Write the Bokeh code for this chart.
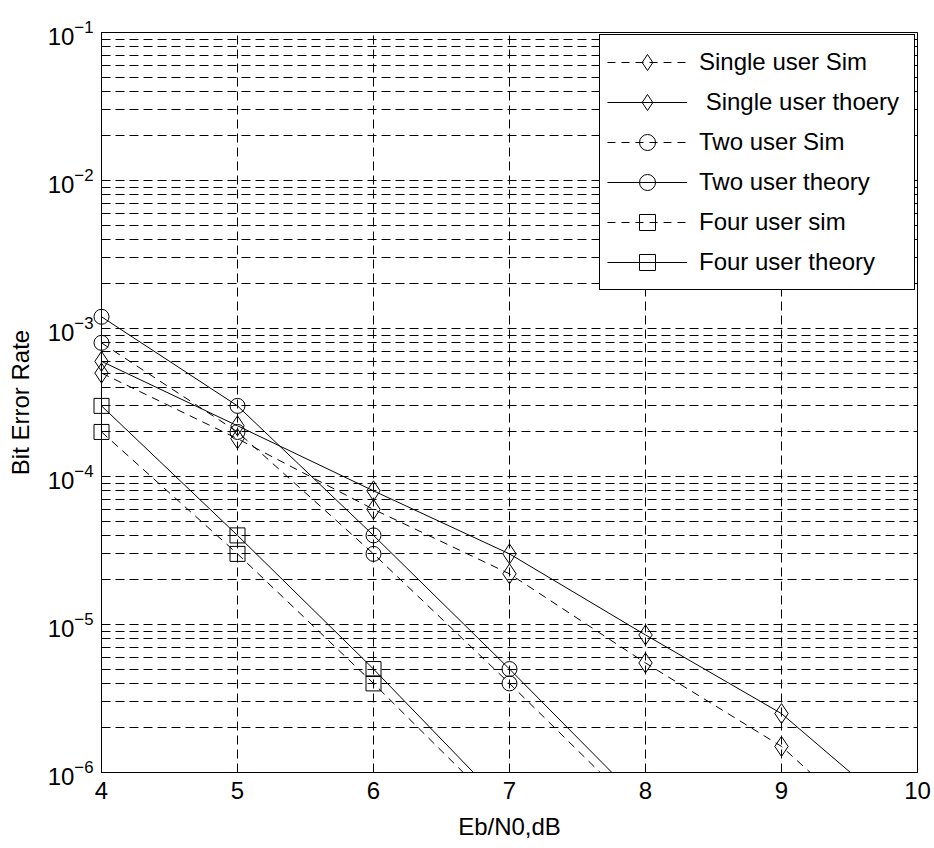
from bokeh.plotting import figure
from bokeh.models import (FixedTicker, Legend, LegendItem, Range1d, LogTickFormatter,
                          ColumnDataSource, CDSView, BooleanFilter)
from bokeh.embed import file_html
from bokeh.resources import INLINE

# ---------------- data ----------------
ebn0_single = [4, 5, 6, 7, 8, 9, 10]
single_sim = [5e-4, 1.8e-4, 6e-5, 2.2e-5, 5.5e-6, 1.5e-6, 2.2e-7]
single_theory = [6e-4, 2.2e-4, 8e-5, 3e-5, 8.5e-6, 2.5e-6, 4.1e-7]

ebn0_two = [4, 5, 6, 7, 8]
two_sim = [8e-4, 2e-4, 3e-5, 4e-6, 5e-7]
two_theory = [1.2e-3, 3e-4, 4e-5, 5e-6, 5.9e-7]

ebn0_four = [4, 5, 6, 7]
four_sim = [2e-4, 3e-5, 4e-6, 4.9e-7]
four_theory = [3e-4, 4e-5, 5e-6, 5.6e-7]

x_ticks = [4, 5, 6, 7, 8, 9, 10]
y_decades = [1e-6, 1e-5, 1e-4, 1e-3, 1e-2, 1e-1]
y_minor = [m * 10.0 ** e for e in range(-6, -1) for m in range(2, 10)]

labels = ["Single user Sim", " Single user thoery", "Two user Sim",
          "Two user theory", "Four user sim", "Four user theory"]

FONT = "Liberation Sans"
FS = "24px"
Y_MIN, Y_MAX = 1e-6, 1e-1

p = figure(width=934, height=848, y_axis_type="log",
           x_range=Range1d(4, 10), y_range=Range1d(Y_MIN, Y_MAX),
           output_backend="svg", toolbar_location=None,
           min_border_left=101, min_border_right=17,
           min_border_top=32, min_border_bottom=76)
p.background_fill_color = "white"
p.border_fill_color = "white"
p.outline_line_color = "black"
p.outline_line_alpha = 1.0
p.outline_line_width = 1

# grid
grid_dash = "9 5"
p.xgrid.ticker = FixedTicker(ticks=x_ticks)
p.ygrid.ticker = FixedTicker(ticks=y_decades, minor_ticks=y_minor)
for g in (p.xgrid, p.ygrid):
    g.grid_line_color = "black"
    g.grid_line_alpha = 1.0
    g.grid_line_dash = grid_dash
    g.grid_line_width = 1
p.ygrid.minor_grid_line_color = "black"
p.ygrid.minor_grid_line_alpha = 1.0
p.ygrid.minor_grid_line_dash = grid_dash

# axes
xa = p.xaxis[0]
ya = p.yaxis[0]
xa.ticker = FixedTicker(ticks=x_ticks)
ya.ticker = FixedTicker(ticks=y_decades, minor_ticks=y_minor)
ya.formatter = LogTickFormatter()
for ax in (xa, ya):
    ax.axis_line_color = "black"
    ax.major_tick_line_color = "black"
    ax.minor_tick_line_color = "black"
    ax.major_tick_out = 0
    ax.major_tick_in = 8
    ax.minor_tick_out = 0
    ax.minor_tick_in = 4
    ax.major_label_text_font = FONT
    ax.major_label_text_font_size = FS
    ax.major_label_text_color = "black"
    ax.axis_label_text_font = FONT
    ax.axis_label_text_font_size = FS
    ax.axis_label_text_font_style = "normal"
    ax.axis_label_text_color = "black"
xa.axis_label = "Eb/N0,dB"
ya.axis_label = "Bit Error Rate"
xa.major_label_standoff = 9
xa.axis_label_standoff = 11
ya.major_label_standoff = 8
ya.axis_label_standoff = 11

# series
data_dash = "8 6"
series = [
    (ebn0_single, single_sim, "diamond", 20, data_dash),
    (ebn0_single, single_theory, "diamond", 20, "solid"),
    (ebn0_two, two_sim, "circle", 15, data_dash),
    (ebn0_two, two_theory, "circle", 15, "solid"),
    (ebn0_four, four_sim, "square", 15, data_dash),
    (ebn0_four, four_theory, "square", 15, "solid"),
]
items = []
for (xs, ys, mk, sz, dash), lab in zip(series, labels):
    src = ColumnDataSource(data=dict(x=xs, y=ys))
    rl = p.line("x", "y", source=src, line_color="black", line_width=1, line_dash=dash)
    # markers drawn unclipped (like MATLAB), only for points inside the y range
    view = CDSView(filter=BooleanFilter([Y_MIN <= v <= Y_MAX for v in ys]))
    rm = p.scatter("x", "y", source=src, view=view, marker=mk, size=sz,
                   line_color="black", line_width=1, fill_color=None, level="overlay")
    items.append(LegendItem(label=lab, renderers=[rl, rm]))

legend = Legend(items=items, location="top_right", margin=2, padding=7,
                spacing=0, glyph_width=80, glyph_height=40, label_height=40,
                label_width=208, label_standoff=12,
                label_text_font=FONT, label_text_font_size=FS,
                label_text_color="black",
                border_line_color="black", border_line_width=1, border_line_alpha=1.0,
                background_fill_color="white", background_fill_alpha=1.0)
p.add_layout(legend)

open("out.html", "w").write(file_html(p, INLINE))
